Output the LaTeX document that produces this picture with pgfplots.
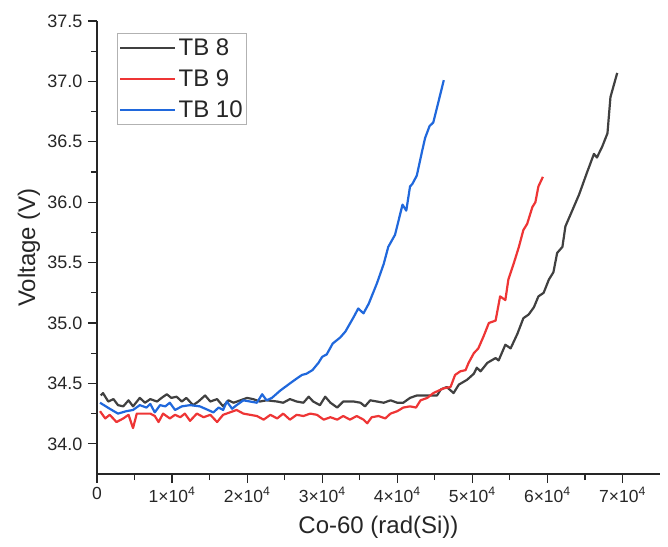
\documentclass[border=0pt]{standalone}
\usepackage{pgfplots}
\pgfplotsset{compat=1.18}
\usepackage{pgfplotstable}
\usepackage{fontspec}
\setmainfont{Liberation Sans}
\definecolor{cblack}{HTML}{404040}
\definecolor{cred}{HTML}{EE3535}
\definecolor{cblue}{HTML}{2068DC}
\pgfplotstableread{
x y
500 34.40
800 34.42
1500 34.35
2200 34.37
2800 34.32
3500 34.31
4200 34.36
4800 34.31
5700 34.38
6400 34.34
7100 34.37
8000 34.35
8600 34.38
9300 34.41
9900 34.38
10600 34.39
11300 34.35
11900 34.38
12800 34.32
13500 34.35
14400 34.40
15100 34.35
16000 34.37
16800 34.31
17500 34.36
18200 34.34
19100 34.36
20000 34.38
20800 34.37
21700 34.35
22600 34.36
24000 34.35
24800 34.34
25700 34.37
26600 34.35
27500 34.34
28200 34.39
28800 34.35
29700 34.32
30400 34.39
31100 34.34
32000 34.30
32800 34.35
34200 34.35
35100 34.34
35700 34.31
36400 34.36
37300 34.35
38200 34.34
39100 34.36
40000 34.34
40800 34.34
41700 34.38
42600 34.40
44000 34.40
45300 34.40
45800 34.45
46600 34.47
47500 34.42
48200 34.49
49300 34.53
50200 34.58
50600 34.63
51100 34.60
52000 34.67
53100 34.71
53500 34.69
54400 34.82
55100 34.79
56000 34.91
56800 35.04
57500 35.07
58200 35.13
58800 35.22
59500 35.25
60200 35.36
60800 35.42
61300 35.58
62000 35.63
62400 35.80
63300 35.93
64200 36.06
65300 36.25
66200 36.40
66600 36.37
67300 36.46
68000 36.57
68400 36.87
69300 37.07
}\tbeight
\pgfplotstableread{
x y
400 34.27
1100 34.21
1700 34.24
2600 34.18
3500 34.21
4200 34.24
4800 34.13
5300 34.25
6200 34.25
7100 34.25
7700 34.23
8200 34.18
8800 34.25
9700 34.21
10400 34.24
11100 34.22
11700 34.25
12400 34.19
13300 34.25
14200 34.22
15100 34.24
16000 34.18
16800 34.24
17700 34.26
18600 34.28
19500 34.25
20400 34.24
21300 34.23
22200 34.20
23100 34.24
24000 34.21
24800 34.25
25700 34.20
26600 34.24
27500 34.23
28400 34.25
29300 34.24
30200 34.20
31100 34.22
32000 34.20
32800 34.23
33700 34.20
34600 34.23
35500 34.20
36000 34.17
36600 34.22
37500 34.23
38400 34.21
39100 34.25
40000 34.27
40800 34.30
41700 34.31
42500 34.30
43100 34.36
44000 34.38
44800 34.42
46200 34.46
47100 34.47
47700 34.57
48400 34.60
49100 34.61
49500 34.67
50200 34.75
50800 34.79
51500 34.89
52200 35.00
53100 35.02
53700 35.22
54400 35.19
54800 35.36
55500 35.49
56200 35.63
56800 35.77
57300 35.82
58000 35.96
58400 36.00
58800 36.13
59400 36.21
}\tbnine
\pgfplotstableread{
x y
400 34.34
1700 34.29
2800 34.25
3900 34.27
4800 34.28
5700 34.32
6600 34.30
7100 34.33
7700 34.26
8400 34.32
9100 34.31
9700 34.34
10400 34.28
11300 34.31
12400 34.32
13700 34.31
14800 34.28
15500 34.26
16200 34.30
16800 34.28
17300 34.35
18000 34.29
18600 34.32
19500 34.36
20400 34.35
21300 34.34
22000 34.41
22600 34.36
23300 34.38
24400 34.44
25700 34.50
26600 34.54
27300 34.57
27900 34.58
28700 34.61
29500 34.67
30000 34.72
30600 34.74
31400 34.83
32400 34.88
33100 34.93
34200 35.05
34800 35.12
35500 35.08
36200 35.16
37300 35.33
38200 35.49
38800 35.63
39700 35.73
40700 35.98
41200 35.93
41700 36.13
42000 36.15
42600 36.22
43300 36.42
43700 36.53
44300 36.63
44800 36.66
46200 37.01
}\tbten
\begin{document}
\begin{tikzpicture}
\useasboundingbox (-97pt,-72pt) rectangle (571pt,474pt);
\begin{axis}[
  at={(0pt,0pt)}, anchor=south west,
  width=563pt, height=453pt, scale only axis,
  xmin=0, xmax=75000, ymin=33.75, ymax=37.5,
  axis x line*=bottom, axis y line*=left,
  axis line style={line width=1.2pt, black!85},
  tick style={line width=1.2pt, black!85},
  tick align=outside,
  major tick length=9pt, minor tick length=6pt,
  xtick={0,10000,20000,30000,40000,50000,60000,70000},
  xticklabels={0,1×10\textsuperscript{4},2×10\textsuperscript{4},3×10\textsuperscript{4},4×10\textsuperscript{4},5×10\textsuperscript{4},6×10\textsuperscript{4},7×10\textsuperscript{4}},
  minor x tick num=1,
  ytick={34,34.5,35,35.5,36,36.5,37,37.5},
  minor y tick num=1,
  yticklabel style={/pgf/number format/fixed, /pgf/number format/fixed zerofill, /pgf/number format/precision=1, /pgf/number format/assume math mode=true, xshift=-2pt, font=\fontsize{18}{21}\selectfont},
  xticklabel style={font=\fontsize{17.5}{20}\selectfont, yshift=-1pt},
  tick label style={text=black!85},
  scaled x ticks=false,
  xlabel={Co-60 (rad(Si))}, ylabel={Voltage (V)},
  label style={font=\fontsize{24}{28}\selectfont, text=black!85},
  xlabel style={at={(axis description cs:0.5,-0.117)}, anchor=center},
  ylabel style={at={(axis description cs:-0.121,0.5)}, anchor=center},
  legend style={at={(axis description cs:0.0355,0.973)}, anchor=north west,
    draw=gray!60, line width=0.8pt, font=\fontsize{24}{28}\selectfont,
    inner xsep=2pt, inner ysep=3.5pt, row sep=8.5pt,
    nodes={inner sep=2pt, text=black!85}},
  legend cell align=left,
  legend image code/.code={\draw[#1] (0pt,0pt) -- (55pt,0pt);},
]
\addplot[cblack, line width=2.2pt, line join=round] table[x=x,y=y] {\tbeight};
\addlegendentry{TB 8}
\addplot[cred, line width=2.2pt, line join=round] table[x=x,y=y] {\tbnine};
\addlegendentry{TB 9}
\addplot[cblue, line width=2.2pt, line join=round] table[x=x,y=y] {\tbten};
\addlegendentry{TB 10}
\end{axis}
\end{tikzpicture}
\end{document}
